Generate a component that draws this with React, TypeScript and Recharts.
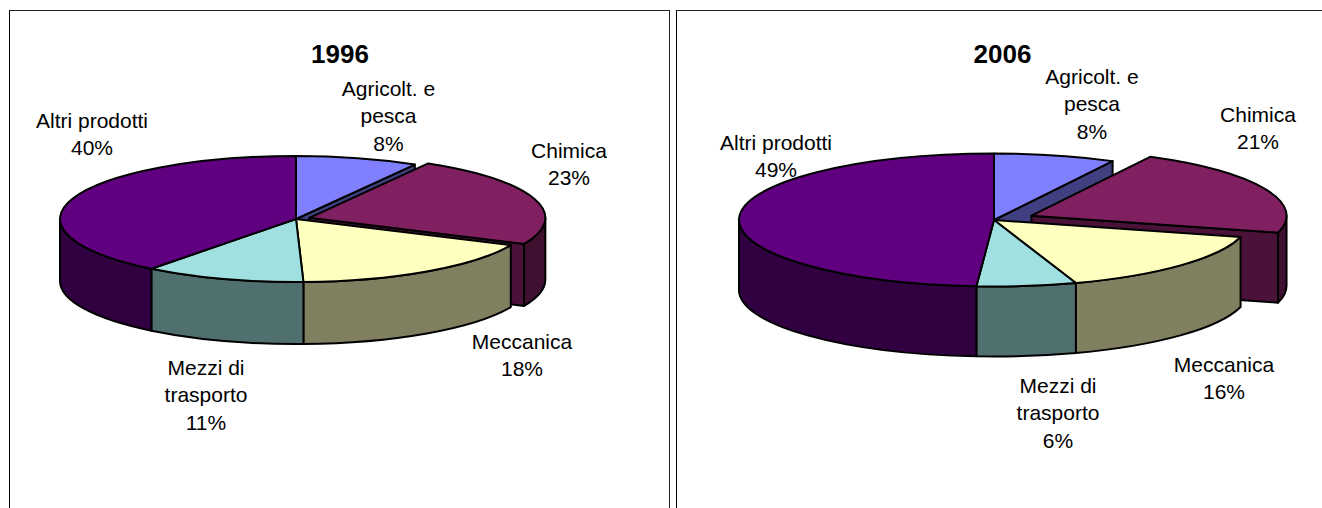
import React from 'react';
import { PieChart, Pie } from 'recharts';

// shares, they round to the printed percentages
const categories = ['Agricolt. e pesca', 'Chimica', 'Meccanica', 'Mezzi di trasporto', 'Altri prodotti'];
const values1996 = [8.4, 23.4, 17.7, 11, 39.5];
const values2006 = [7.7, 21.4, 15.7, 6.3, 48.9];

const labelLines = [['Agricolt. e', 'pesca'], ['Chimica'], ['Meccanica'], ['Mezzi di', 'trasporto'], ['Altri prodotti']];

const topColors = ['#8080FF', '#802060', '#FFFFC0', '#A0E0E0', '#600080'];
const sideColors = ['#404080', '#401030', '#808060', '#507070', '#300040'];
const cutColors = ['#404080', '#4A1238', '#808060', '#507070', '#300040'];

const FONT = '"Liberation Sans", Arial, sans-serif';
const EXPLODED = 1;

// label anchors: centre x, first baseline y, in chart coordinates
const labelPos1996 = [[388.5, 96], [569, 158], [522, 349], [206, 375], [92, 128]];
const labelPos2006 = [[420, 84], [586, 122], [552, 372], [386, 393], [104, 150]];

type Geometry = {
  ry: number;
  depth: number;
  explode: number;
};

const renderSlice = (geo: Geometry) => (props: any) => {
  const { cx, cy, outerRadius: rx, startAngle, endAngle, index } = props;
  const { ry, depth, explode } = geo;
  const rad = (deg: number) => (deg * Math.PI) / 180;
  // clockwise degrees from 12 o'clock
  const t0 = 90 - startAngle;
  const t1 = 90 - endAngle;
  const mid = (t0 + t1) / 2;
  const isExploded = index === EXPLODED;
  const ox = cx + (isExploded ? explode * Math.sin(rad(mid)) : 0);
  const oy = cy - (isExploded ? explode * (ry / rx) * Math.cos(rad(mid)) : 0);
  const pt = (t: number) => [ox + rx * Math.sin(rad(t)), oy - ry * Math.cos(rad(t))];
  const [sx, sy] = pt(t0);
  const [ex, ey] = pt(t1);
  const large = t1 - t0 > 180 ? 1 : 0;
  const top = `M${ox},${oy} L${sx},${sy} A${rx},${ry} 0 ${large} 1 ${ex},${ey} Z`;

  const wallFrom = Math.max(t0, 90);
  const wallTo = Math.min(t1, 270);
  let wall = '';
  if (wallTo > wallFrom) {
    const [ax, ay] = pt(wallFrom);
    const [bx, by] = pt(wallTo);
    wall = `M${ax},${ay} A${rx},${ry} 0 0 1 ${bx},${by} L${bx},${by + depth} A${rx},${ry} 0 0 0 ${ax},${ay + depth} Z`;
  }
  // the cut face only shows next to the pulled-out slice
  const showCut = isExploded || index === EXPLODED - 1;
  const cut = `M${ox},${oy} L${ex},${ey} L${ex},${ey + depth} L${ox},${oy + depth} Z`;

  const stroke = { stroke: '#000', strokeWidth: 2, strokeLinejoin: 'round' as const };
  return (
    <g>
      {showCut && <path d={cut} fill={cutColors[index]} {...stroke} />}
      {wall && <path d={wall} fill={sideColors[index]} {...stroke} />}
      <path d={top} fill={topColors[index]} {...stroke} />
    </g>
  );
};

const renderLabel = (positions: number[][], values: number[]) => (props: any) => {
  const { index } = props;
  const [x, y] = positions[index];
  const lines = [...labelLines[index], `${Math.round(values[index])}%`];
  return (
    <text x={x} y={y} textAnchor='middle' fontFamily={FONT} fontSize={21} fill='#000'>
      {lines.map((line, i) => (
        <tspan key={line} x={x} y={y + i * 27.3}>
          {line}
        </tspan>
      ))}
    </text>
  );
};

type PieFrameProps = {
  title: string;
  titleX: number;
  values: number[];
  positions: number[][];
  left: number;
  width: number;
  cx: number;
  cy: number;
  rx: number;
  geo: Geometry;
};

const PieFrame: React.FC<PieFrameProps> = ({ title, titleX, values, positions, left, width, cx, cy, rx, geo }) => {
  const data = categories.map((name, i) => ({ name, value: values[i] }));
  const pieProps = {
    data,
    dataKey: 'value',
    nameKey: 'name',
    cx,
    cy,
    innerRadius: 0,
    outerRadius: rx,
    startAngle: 90,
    endAngle: -270,
    isAnimationActive: false,
  };
  return (
    <div style={{ position: 'absolute', left, top: 0 }}>
      <PieChart width={width} height={508} margin={{ top: 0, right: 0, bottom: 0, left: 0 }}>
        <text x={titleX} y={63} textAnchor='middle' fontFamily={FONT} fontSize={26} fontWeight='bold' fill='#000'>
          {title}
        </text>
        {/* labels sit under the slices, the pie covers the foot of 49% */}
        <Pie {...pieProps} shape={() => null} label={renderLabel(positions, values)} labelLine={false} />
        <Pie {...pieProps} shape={renderSlice(geo)} label={false} labelLine={false} />
      </PieChart>
    </div>
  );
};

const App: React.FC = () => (
  <div style={{ position: 'absolute', left: 0, top: 0, width: 1322, height: 508, overflow: 'hidden', background: '#fff' }}>
    <div style={{ position: 'absolute', left: 9, top: 10, width: 659, height: 520, borderLeft: '1px solid #000', borderTop: '1px solid #222', borderRight: '1px solid #222' }} />
    <div style={{ position: 'absolute', left: 676, top: 10, width: 660, height: 520, borderLeft: '1px solid #000', borderTop: '1px solid #222' }} />
    <PieFrame
      title='1996'
      titleX={340}
      values={values1996}
      positions={labelPos1996}
      left={0}
      width={672}
      cx={296}
      cy={219}
      rx={236}
      geo={{ ry: 63, depth: 62, explode: 14 }}
    />
    <PieFrame
      title='2006'
      titleX={330.5}
      values={values2006}
      positions={labelPos2006}
      left={672}
      width={650}
      cx={322}
      cy={220}
      rx={255}
      geo={{ ry: 66.5, depth: 70, explode: 41 }}
    />
  </div>
);

export default App;
